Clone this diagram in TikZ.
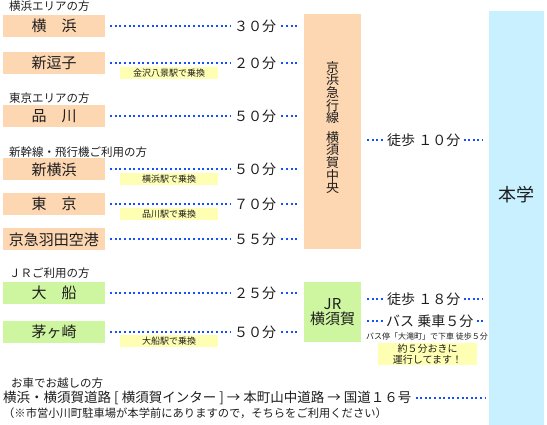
\documentclass[tikz,border=0pt]{standalone}
\usepackage{fontspec}
\setmainfont{Noto Sans CJK JP}
\usetikzlibrary{positioning}
\definecolor{keikyu}{RGB}{253,214,178}
\definecolor{jrgreen}{RGB}{206,245,160}
\definecolor{campus}{RGB}{200,240,255}
\definecolor{memo}{RGB}{255,255,180}
\definecolor{dots}{RGB}{20,80,255}
\definecolor{ink}{RGB}{30,30,30}

\tikzset{
  station/.style={minimum width=102pt,minimum height=22pt,inner sep=0pt,font=\fontsize{15}{15}\selectfont},
  kkbox/.style={station,fill=keikyu},
  jrbox/.style={station,fill=jrgreen},
  group/.style={anchor=west,inner sep=0pt,font=\fontsize{11.5}{12}\selectfont},
  mins/.style={anchor=west,inner sep=0pt,font=\fontsize{14}{14}\selectfont},
  xfer/.style={anchor=north west,fill=memo,minimum width=98pt,minimum height=12pt,inner sep=0pt,font=\fontsize{9}{9}\selectfont},
  dotline/.style={dots,line width=2pt,dash pattern=on 2pt off 2.6pt,line cap=butt},
}

\begin{document}
\begin{tikzpicture}[x=1pt,y=-1pt,text=ink]
  \useasboundingbox (0,0) rectangle (547,425);

  % terminals
  \node[fill=keikyu,minimum width=57pt,minimum height=235pt,inner sep=0pt] (kkline) at (332.5,131.5) {};
  \node[align=center,font=\fontsize{13}{12.6}\selectfont] (kkname) at ([yshift=4pt]kkline.center)
    {京\\浜\\急\\行\\線\\[7pt]横\\須\\賀\\中\\央};
  \node[fill=jrgreen,minimum width=57pt,minimum height=60pt,inner sep=0pt,align=center,
    font=\fontsize{15}{15}\selectfont] (jrline) at (332.5,312) {JR\\横須賀};
  \node[fill=campus,minimum width=55pt,minimum height=414pt,inner sep=0pt] (campus) at (516.5,218) {};
  \node[font=\fontsize{18}{18}\selectfont] (campusname) at ([yshift=23pt]campus.center) {本学};

  % Keikyu rows
  \node[group] (gYoko) at (9,6) {横浜エリアの方};
  \node[kkbox] (yokohama) at (54,26) {横　浜};
  \node[mins] (m1) at (234,26) {３０分};
  \node[kkbox] (zushi) at (54,63) {新逗子};
  \node[mins] (m2) at (234,63) {２０分};
  \node[xfer] (x2) at (120,67) {金沢八景駅で乗換};
  \node[group] (gTokyo) at (9,98) {東京エリアの方};
  \node[kkbox] (shinagawa) at (54,116) {品　川};
  \node[mins] (m3) at (234,116) {５０分};
  \node[group] (gShin) at (9,152) {新幹線・飛行機ご利用の方};
  \node[kkbox] (shinyoko) at (54,169.5) {新横浜};
  \node[mins] (m4) at (234,169.5) {５０分};
  \node[xfer] (x4) at (120,173) {横浜駅で乗換};
  \node[kkbox] (tokyo) at (54,204) {東　京};
  \node[mins] (m5) at (234,204) {７０分};
  \node[xfer] (x5) at (120,208) {品川駅で乗換};
  \node[kkbox] (haneda) at (54,239.5) {京急羽田空港};
  \node[mins] (m6) at (234,239.5) {５５分};

  % JR rows
  \node[group] (gJR) at (9,273) {ＪＲご利用の方};
  \node[jrbox] (ofuna) at (54,293) {大　船};
  \node[mins] (m7) at (234,293) {２５分};
  \node[jrbox] (chigasaki) at (54,332) {茅ヶ崎};
  \node[mins] (m8) at (234,332) {５０分};
  \node[xfer] (x8) at (120,335) {大船駅で乗換};

  \foreach \a/\b in {yokohama/m1,zushi/m2,shinagawa/m3,shinyoko/m4,tokyo/m5,haneda/m6,ofuna/m7,chigasaki/m8}
    \draw[dotline] ([xshift=5pt]\a.east) -- ([xshift=-3pt]\b.west);
  \foreach \b in {m1,m2,m3,m4,m5,m6}
    \draw[dotline] ([xshift=5pt]\b.east) -- ([xshift=-6pt]\b.east -| kkline.west);
  \foreach \b in {m7,m8}
    \draw[dotline] ([xshift=5pt]\b.east) -- ([xshift=-6pt]\b.east -| jrline.west);

  % walking / bus
  \node[mins] (walk10) at (387,140) {徒歩 １０分};
  \node[mins] (walk18) at (387,299) {徒歩 １８分};
  \node[mins] (bus) at (386,321) {バス 乗車５分};
  \foreach \b in {walk10,walk18,bus}{
    \draw[dotline] ([xshift=6pt]\b.west -| jrline.east) -- ([xshift=-3pt]\b.west);
    \draw[dotline] ([xshift=3pt]\b.east) -- ([xshift=-6pt]\b.east -| campus.west);
  }
  \node[inner sep=0pt,font=\fontsize{8}{8}\selectfont] (busstop) at (427,336) {バス停「大滝町」で下車 徒歩５分};
  \node[fill=memo,minimum width=99pt,minimum height=22pt,inner sep=0pt,align=center,
    font=\fontsize{10}{10.5}\selectfont] (every5) at (427.5,354) {約５分おきに\\運行してます！};

  % by car
  \node[group] (gCar) at (11,383) {お車でお越しの方};
  \node[mins,font=\fontsize{13.5}{13.5}\selectfont] (route) at (3,398)
    {横浜・横須賀道路 [ 横須賀インター ] → 本町山中道路 → 国道１６号};
  \draw[dotline] ([xshift=4pt]route.east) -- ([xshift=-4pt]route.east -| campus.west);
  \node[group,font=\fontsize{11.3}{11.3}\selectfont] (parking) at (3,413)
    {（※市営小川町駐車場が本学前にありますので，そちらをご利用ください）};
\end{tikzpicture}
\end{document}
